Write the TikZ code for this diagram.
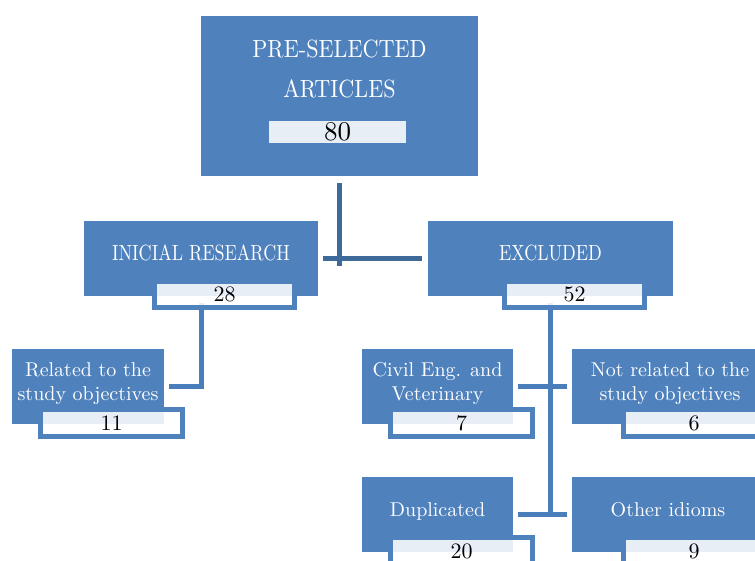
\documentclass[tikz,border=0pt]{standalone}
\usepackage{fontspec}
\setmainfont{lmroman10-regular}[Extension=.otf]
\newfontfamily\capfont{lmroman10-regular}[Extension=.otf,FakeStretch=0.82]
\newfontfamily\titlefont{lmroman10-regular}[Extension=.otf,FakeStretch=0.89]
\definecolor{boxblue}{RGB}{79,129,189}
\definecolor{linkblue}{RGB}{74,126,187}
\definecolor{darklink}{RGB}{62,106,154}
\begin{document}
\begin{tikzpicture}[x=1pt,y=-1pt,
  mainbox/.style={fill=boxblue,draw=none,inner sep=0pt,outer sep=0pt},
  numbox/.style={draw=boxblue,line width=4.5pt,fill=white,fill opacity=0.87,text opacity=1,
     text=black,inner sep=0pt,outer sep=0pt,font=\fontsize{22}{26}\selectfont},
  topnum/.style={draw=none,fill=white,fill opacity=0.87,text opacity=1,text=black,
     inner sep=0pt,outer sep=0pt,minimum width=137pt,minimum height=22pt,font=\fontsize{27}{30}\selectfont},
  lbl/.style={text=white,inner sep=0pt,align=center,font=\fontsize{20}{23.5}\selectfont},
  caplbl/.style={text=white,inner sep=0pt,align=center,font=\capfont\fontsize{22}{26}\selectfont},
  titlelbl/.style={text=white,inner sep=0pt,align=center,font=\titlefont\fontsize{24.9}{40}\selectfont},
  link/.style={draw=linkblue,line width=5pt},
  toplink/.style={draw=darklink,line width=5.3pt}]
\useasboundingbox (0,0) rectangle (755,560);
\clip (0,0) rectangle (755,560);
% main boxes
\node[mainbox,minimum width=277pt,minimum height=160pt] (top) at (339.5,96) {};
\node[mainbox,minimum width=234pt,minimum height=75pt] (init) at (201,258.5) {};
\node[mainbox,minimum width=245pt,minimum height=75pt] (excl) at (550.5,258.5) {};
\node[mainbox,minimum width=152pt,minimum height=75pt] (rel) at (88,386.5) {};
\node[mainbox,minimum width=151pt,minimum height=75pt] (civil) at (437.5,386.5) {};
\node[mainbox,minimum width=193pt,minimum height=75pt] (notrel) at (668.5,386.5) {};
\node[mainbox,minimum width=151pt,minimum height=75pt] (dup) at (437.5,514.5) {};
\node[mainbox,minimum width=193pt,minimum height=75pt] (other) at (668.5,514.5) {};
% connectors
\draw[toplink] ([yshift=-7pt]top.south) -- ([yshift=-7pt]top.south |- init.east);
\draw[toplink] ([xshift=5pt]init.east) -- ([xshift=-6pt]excl.west);
\coordinate (initS) at (201,302.5);
\coordinate (exclS) at (550.5,302.5);
\draw[link] (initS) |- ([xshift=5pt]rel.east);
\draw[link] (exclS) -- ([yshift=-2.5pt]exclS |- dup.east);
\draw[link] ([xshift=5pt]civil.east) -- ([xshift=-5pt]notrel.west);
\draw[link] ([xshift=5pt]dup.east) -- ([xshift=-5pt]other.west);
% number boxes
\node[topnum] (topN) at (337.5,132) {80};
\node[numbox,minimum width=140pt,minimum height=26pt] (initN) at (224.5,294.5) {28};
\node[numbox,minimum width=140pt,minimum height=26pt] (exclN) at (574.5,294.5) {52};
\node[numbox,minimum width=142pt,minimum height=27pt] (relN) at (111.5,423) {11};
\node[numbox,minimum width=142pt,minimum height=27pt] (civilN) at (461.5,423) {7};
\node[numbox,minimum width=141pt,minimum height=27pt] (notrelN) at (694,423) {6};
\node[numbox,minimum width=142pt,minimum height=27pt] (dupN) at (461.5,551) {20};
\node[numbox,minimum width=141pt,minimum height=27pt] (otherN) at (694,551) {9};
% labels
\node[titlelbl] (topL) at (339.5,69.2) {PRE-SELECTED\\ARTICLES};
\node[caplbl,anchor=base] (initL) at (201,260) {INICIAL RESEARCH};
\node[caplbl,anchor=base] (exclL) at (550.5,260) {EXCLUDED};
\node[lbl] (relL) at (88,383.6) {Related to the\\study objectives};
\node[lbl] (civilL) at (437.5,383.6) {Civil Eng. and\\Veterinary};
\node[lbl] (notrelL) at (670,383.6) {Not related to the\\study objectives};
\node[lbl,anchor=base] (dupL) at (437.5,516.7) {Duplicated};
\node[lbl,anchor=base] (otherL) at (668,516.7) {Other idioms};
\end{tikzpicture}
\end{document}
